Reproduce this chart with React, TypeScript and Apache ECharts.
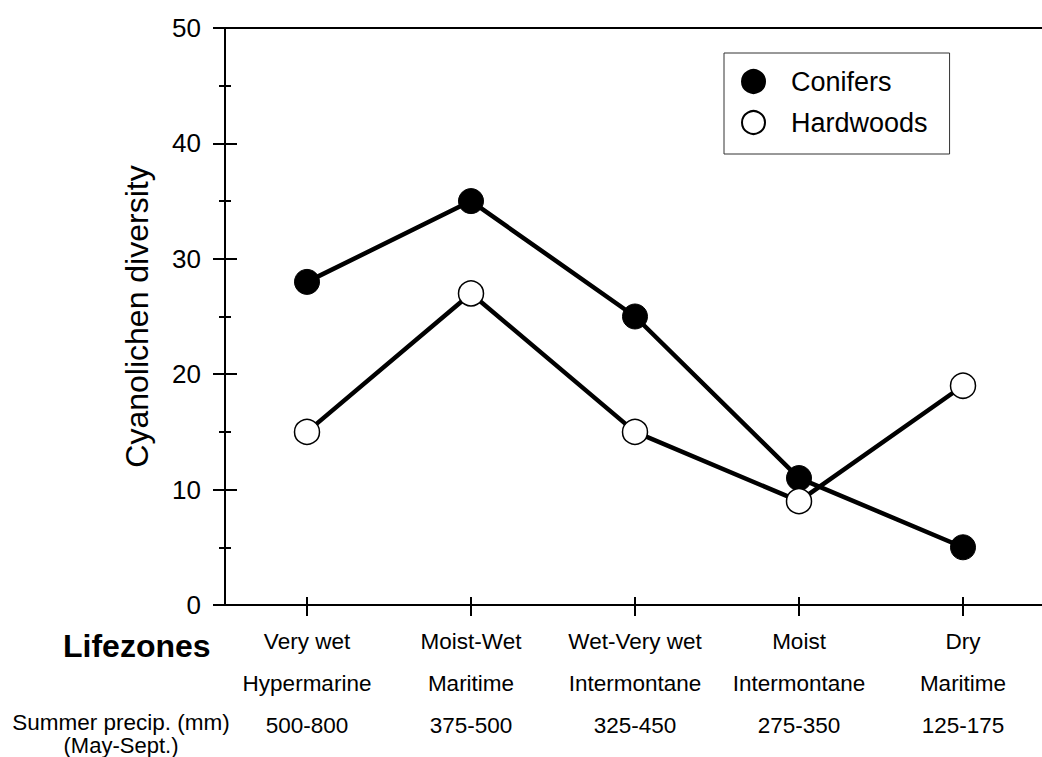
import React, { useEffect, useRef } from "react";
import * as echarts from "echarts";

// Lifezone categories: name, subzone and summer precipitation range
const lifezones = ["Very wet", "Moist-Wet", "Wet-Very wet", "Moist", "Dry"];
const subzones = ["Hypermarine", "Maritime", "Intermontane", "Intermontane", "Maritime"];
const precip = ["500-800", "375-500", "325-450", "275-350", "125-175"];

// Cyanolichen diversity per lifezone
const conifers = [28, 35, 25, 11, 5];
const hardwoods = [15, 27, 15, 9, 19];

const yTicks = { min: 0, max: 50, interval: 10 };

const FONT = "'Liberation Sans', Arial, Helvetica, sans-serif";
const BLACK = "#000";

// Both grids share the same plot rectangle; the second one only carries
// the inner halves of the crossing ticks and the top frame line.
const plotRect = {
  left: 225,
  top: 28,
  right: -3,
  bottom: 152,
  containLabel: false,
  outerBoundsMode: "none",
};

export default function App() {
  const ref = useRef<HTMLDivElement>(null);

  useEffect(() => {
    if (!ref.current) return;
    const chart = echarts.init(ref.current, undefined, { renderer: "svg" });

    const catLabels = lifezones.map((_, i) => String(i));
    const tickLine = { color: BLACK, width: 2 };

    const option: any = {
      animation: false,
      backgroundColor: "#fff",
      textStyle: { fontFamily: FONT, color: BLACK },
      grid: [{ ...plotRect }, { ...plotRect }],
      legend: {
        orient: "vertical",
        left: 724,
        top: 53,
        icon: "circle",
        itemWidth: 23,
        itemHeight: 25,
        itemGap: 14,
        padding: [15, 22, 18, 17],
        borderColor: "#333",
        borderWidth: 1,
        backgroundColor: "#fff",
        textStyle: {
          fontFamily: FONT,
          fontSize: 27,
          color: BLACK,
          padding: [0, 0, 0, 21],
        },
        data: ["Conifers", "Hardwoods"],
      },
      xAxis: [
        {
          gridIndex: 0,
          type: "category",
          data: catLabels,
          position: "bottom",
          boundaryGap: true,
          axisLine: { onZero: false, lineStyle: tickLine },
          axisTick: { show: true, alignWithLabel: true, length: 11, lineStyle: tickLine },
          axisLabel: {
            margin: 15,
            interval: 0,
            formatter: (v: string) => {
              const i = Number(v);
              return `{a|${lifezones[i]}}\n{b|${subzones[i]}}\n{c|${precip[i]}}`;
            },
            rich: {
              a: { fontFamily: FONT, fontSize: 22.5, color: BLACK, lineHeight: 42 },
              b: { fontFamily: FONT, fontSize: 22.5, color: BLACK, lineHeight: 42 },
              c: { fontFamily: FONT, fontSize: 22.5, color: BLACK, lineHeight: 42 },
            },
          },
        },
        {
          gridIndex: 1,
          type: "category",
          data: catLabels,
          position: "bottom",
          boundaryGap: true,
          axisLine: { show: true, onZero: false, lineStyle: { color: BLACK, width: 0, opacity: 0 } },
          axisTick: { show: true, alignWithLabel: true, inside: true, length: 8, lineStyle: tickLine },
          axisLabel: { show: false },
        },
        {
          gridIndex: 1,
          type: "category",
          data: catLabels,
          position: "top",
          boundaryGap: true,
          axisLine: { onZero: false, lineStyle: tickLine },
          axisTick: { show: false },
          axisLabel: { show: false },
        },
      ],
      yAxis: [
        {
          gridIndex: 0,
          type: "value",
          position: "left",
          ...yTicks,
          name: "Cyanolichen diversity",
          nameLocation: "middle",
          nameGap: 72,
          nameTextStyle: { fontFamily: FONT, fontSize: 32, color: BLACK },
          axisLine: { show: true, onZero: false, lineStyle: tickLine },
          axisTick: { show: true, length: 12, lineStyle: tickLine },
          minorTick: { show: true, splitNumber: 2, length: 6, lineStyle: tickLine },
          axisLabel: { margin: 24, fontFamily: FONT, fontSize: 26, color: BLACK },
          splitLine: { show: false },
        },
        {
          gridIndex: 1,
          type: "value",
          position: "left",
          ...yTicks,
          axisLine: { show: true, onZero: false, lineStyle: { color: BLACK, width: 0, opacity: 0 } },
          axisTick: { show: true, inside: true, length: 12, lineStyle: tickLine },
          minorTick: { show: true, splitNumber: 2, length: 6, lineStyle: tickLine },
          axisLabel: { show: false },
          splitLine: { show: false },
        },
      ],
      series: [
        {
          name: "Conifers",
          type: "line",
          xAxisIndex: 0,
          yAxisIndex: 0,
          data: conifers,
          symbol: "circle",
          symbolSize: 25,
          lineStyle: { color: BLACK, width: 4.5 },
          itemStyle: { color: BLACK, borderColor: BLACK, borderWidth: 1 },
          z: 3,
        },
        {
          name: "Hardwoods",
          type: "line",
          xAxisIndex: 0,
          yAxisIndex: 0,
          data: hardwoods,
          symbol: "circle",
          symbolSize: 25,
          lineStyle: { color: BLACK, width: 4.5 },
          itemStyle: { color: "#fff", borderColor: BLACK, borderWidth: 1.5 },
          z: 4,
        },
        {
          // invisible carrier so the tick-only axes of the second grid are laid out
          name: "ticks",
          type: "line",
          xAxisIndex: 1,
          yAxisIndex: 1,
          data: conifers,
          symbol: "none",
          silent: true,
          lineStyle: { opacity: 0, width: 0 },
          tooltip: { show: false },
        },
      ],
      graphic: [
        {
          type: "text",
          left: 63,
          top: 630,
          style: {
            text: "Lifezones",
            fontFamily: FONT,
            fontSize: 32,
            fontWeight: "bold",
            fill: BLACK,
          },
        },
        {
          type: "text",
          x: 121,
          y: 722,
          style: {
            text: "Summer precip. (mm)",
            fontFamily: FONT,
            fontSize: 22.5,
            fill: BLACK,
            align: "center",
            verticalAlign: "middle",
          },
        },
        {
          type: "text",
          x: 121,
          y: 745,
          style: {
            text: "(May-Sept.)",
            fontFamily: FONT,
            fontSize: 22,
            fill: BLACK,
            align: "center",
            verticalAlign: "middle",
          },
        },
      ],
    };

    chart.setOption(option);
    return () => chart.dispose();
  }, []);

  return (
    <div
      ref={ref}
      style={{ position: "absolute", left: 0, top: 0, width: 1042, height: 757 }}
    />
  );
}
